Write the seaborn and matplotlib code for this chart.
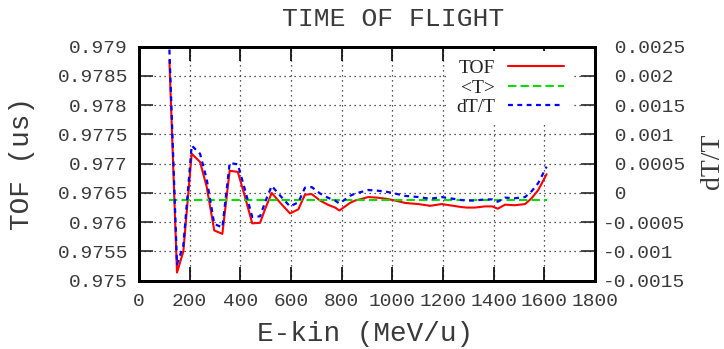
import matplotlib
matplotlib.use("Agg")
import matplotlib.pyplot as plt
from matplotlib.ticker import MultipleLocator, FuncFormatter
import pandas as pd
import seaborn as sns

# Kinetic energy per nucleon (MeV/u)
energy = [120, 150, 175, 208, 241, 267, 297, 329, 358, 390, 418, 447, 478, 500,
          524, 560, 596, 629, 655, 682, 715, 745, 774, 791, 833, 853, 880, 905,
          940, 977, 1011, 1050, 1075, 1103, 1149, 1195, 1241, 1270, 1294, 1326,
          1366, 1395, 1416, 1445, 1484, 1524, 1550, 1576, 1609]

# Time of flight (us)
tof = [0.97877, 0.97514, 0.97550, 0.97717, 0.97703, 0.97661, 0.97586, 0.97580,
       0.97688, 0.97686, 0.97644, 0.97598, 0.97599, 0.97625, 0.97650, 0.97632,
       0.97615, 0.97622, 0.97647, 0.97648, 0.97637, 0.97630, 0.97625, 0.97620,
       0.97633, 0.97637, 0.97640, 0.97643, 0.97642, 0.97640, 0.97637, 0.97633,
       0.97632, 0.97631, 0.97628, 0.97631, 0.97628, 0.97626, 0.97625, 0.97625,
       0.97627, 0.97627, 0.97623, 0.97630, 0.97629, 0.97631, 0.97641, 0.97655,
       0.97682]

# Mean time of flight (us)
mean_tof = 0.97638

# Relative deviation dT/T
dt_over_t = [0.00245, -0.00122, -0.00090, 0.00081, 0.00067, 0.00024, -0.00053,
             -0.00059, 0.00051, 0.00049, 0.00006, -0.00041, -0.00040, -0.00013,
             0.00012, -0.00006, -0.00023, -0.00016, 0.00009, 0.00010, -0.00001,
             -0.00008, -0.00013, -0.00018, -0.00005, -0.00001, 0.00002, 0.00005,
             0.00004, 0.00002, -0.00001, -0.00005, -0.00006, -0.00007, -0.00010,
             -0.00007, -0.00010, -0.00012, -0.00013, -0.00013, -0.00011, -0.00011,
             -0.00015, -0.00008, -0.00009, -0.00007, 0.00003, 0.00017, 0.00045]

sns.set_style("ticks")
plt.rcParams['font.family'] = ['Liberation Mono', 'DejaVu Sans']

TEXT = "#3a3a3a"
W, H = 724, 349
fig = plt.figure(figsize=(W / 100, H / 100), dpi=100)
x0, x1, y0, y1 = 139, 595, 46.7, 280.7
ax = fig.add_axes([x0 / W, 1 - y1 / H, (x1 - x0) / W, (y1 - y0) / H])
ax2 = ax.twinx()

df = pd.DataFrame({"E": energy, "TOF": tof, "dTT": dt_over_t})
mean_df = pd.DataFrame({"E": [energy[0], energy[-1]], "T": [mean_tof, mean_tof]})

sns.lineplot(data=df, x="E", y="TOF", ax=ax, color="#ff0000", lw=1.5,
             legend=False)
sns.lineplot(data=mean_df, x="E", y="T", ax=ax, color="#00e000", lw=1.5,
             linestyle=(0, (4, 2)), legend=False)
sns.lineplot(data=df, x="E", y="dTT", ax=ax2, color="#0000ff", lw=1.6,
             linestyle=(0, (2.2, 2)), legend=False)

ax.set_xlim(0, 1800)
ax.set_ylim(0.975, 0.979)
ax2.set_ylim(-0.0015, 0.0025)
ax.xaxis.set_major_locator(MultipleLocator(200))
ax.yaxis.set_major_locator(MultipleLocator(0.0005))
ax2.yaxis.set_major_locator(MultipleLocator(0.0005))

ax.yaxis.set_major_formatter(FuncFormatter(lambda v, p: "%g" % round(v, 6)))
ax.xaxis.set_major_formatter(FuncFormatter(lambda v, p: "%g" % round(v, 6)))


def right_fmt(v, p):
    v = round(v, 6)
    s = "%g" % v
    return s if v < 0 else " " + s


ax2.yaxis.set_major_formatter(FuncFormatter(right_fmt))

ax.grid(True, color="#222222", lw=0.9, linestyle=(0, (1, 3)))
ax.tick_params(axis="x", direction="in", length=10, width=1.2, top=True,
               labelsize=14, pad=9, colors="black", labelcolor=TEXT)
ax.tick_params(axis="y", direction="in", length=10, width=1.2, right=False,
               labelsize=14, pad=8, labelcolor=TEXT)
ax2.tick_params(axis="y", direction="in", length=10, width=1.2,
                labelsize=14, pad=6, labelcolor=TEXT)
for a in (ax, ax2):
    for s in a.spines.values():
        s.set_linewidth(2)
        s.set_color("black")

ax.set_xlabel("E-kin (MeV/u)", fontsize=20, color=TEXT)
ax.xaxis.label.set_va("center")
ax.xaxis.set_label_coords(0.495, -0.228)
ax.set_ylabel("TOF (us)", fontsize=20, color=TEXT)
ax.yaxis.label.set_va("center")
ax.yaxis.set_label_coords(-0.257, 0.5)
ax2.set_ylabel("dT/T", fontsize=20, family="Liberation Serif", color=TEXT,
               rotation=90)
ax2.yaxis.label.set_va("center")
ax2.yaxis.set_label_coords(1.257, 0.51)

fig.text(393 / W, 1 - 19 / H, "TIME OF FLIGHT", fontsize=19,
         ha="center", va="center", color=TEXT)

handles = ax.get_lines()[:2] + ax2.get_lines()[:1]
leg = ax2.legend(handles, ["TOF", "<T>", "dT/T"], loc="upper right",
                 bbox_to_anchor=(1 - 22 / (x1 - x0), 1 - 4 / (y1 - y0)),
                 borderaxespad=0,
                 markerfirst=False, frameon=True, framealpha=1,
                 edgecolor="none", fancybox=False, handlelength=2.9,
                 handletextpad=0.65, labelspacing=0.1, borderpad=0.45,
                 prop={"family": "Liberation Serif", "size": 14})
leg.get_frame().set_facecolor("white")
for t in leg.get_texts():
    t.set_color("#222222")

fig.savefig("out.png", dpi=100)
